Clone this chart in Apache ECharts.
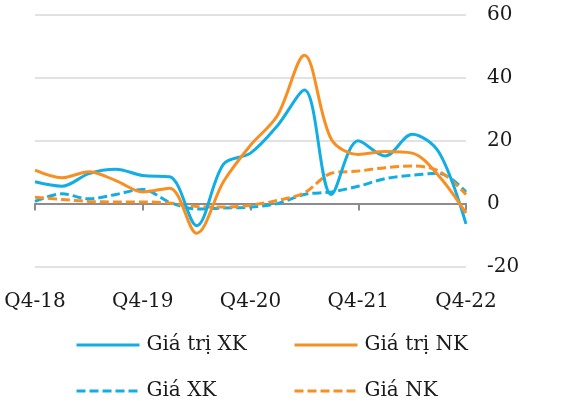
<!DOCTYPE html>
<html><head><meta charset="utf-8">
<script src="https://cdn.jsdelivr.net/npm/echarts@6/dist/echarts.min.js"></script>
<style>html,body{margin:0;padding:0;background:#fff}#c{width:565px;height:401px}</style>
</head><body><div id="c"></div>
<script>
const categories = ['Q4-18','Q1-19','Q2-19','Q3-19','Q4-19','Q1-20','Q2-20','Q3-20','Q4-20','Q1-21','Q2-21','Q3-21','Q4-21','Q1-22','Q2-22','Q3-22','Q4-22'];
const giaTriXK = [6.9, 5.5, 9.5, 10.9, 8.9, 8.5, -7.0, 12.5, 16.0, 24.7, 36.0, 2.9, 19.9, 15.1, 22.0, 16.2, -6.4];
const giaTriNK = [10.6, 8.2, 10.1, 7.3, 3.7, 4.9, -9.4, 7.0, 18.5, 27.9, 47.0, 20.4, 15.6, 16.5, 16.0, 8.7, -3.0];
const giaXK = [0.7, 3.1, 1.5, 2.9, 4.5, 0.4, -1.7, -1.4, -1.1, 0.0, 2.9, 3.7, 5.5, 7.9, 9.0, 9.6, 3.7];
const giaNK = [2.0, 1.3, 0.7, 0.5, 0.5, 0.2, -0.9, -1.1, -0.5, 1.0, 3.4, 9.6, 10.3, 11.4, 11.9, 10.3, 2.9];
const yTicks = {min: -20, max: 60, interval: 20};

const BLUE = '#12ADE4', ORANGE = '#F78F22';
const FONT = 'DejaVu Serif';
function mk(name, data, color, dashed) {
  return {name, type: 'line', data, smooth: 0.33, symbol: 'none',
    lineStyle: {color, width: 3, type: dashed ? [9, 4] : 'solid', cap: 'butt'},
    itemStyle: {color}};
}
const legendBase = {top: 335, orient: 'vertical', padding: 0, itemWidth: 63, itemHeight: 20, itemGap: 26,
  itemStyle: {opacity: 0}, lineStyle: {width: 3},
  textStyle: {fontFamily: FONT, fontSize: 20, color: '#1a1a1a', padding: [0,0,0,2]}};
const chart = echarts.init(document.getElementById('c'), null, {renderer: 'canvas'});
chart.setOption({
  animation: false,
  grid: {left: 35, right: 99, top: 14.3, bottom: 134.3, containLabel: false},
  xAxis: {type: 'category', data: categories, boundaryGap: false,
    axisLine: {onZero: true, lineStyle: {color: '#8c8c8c', width: 2}},
    axisTick: {show: true, interval: 3, length: 7, lineStyle: {color: '#8c8c8c', width: 2}},
    axisLabel: {interval: 3, margin: 25, color: '#1a1a1a', fontFamily: FONT, fontSize: 20},
    splitLine: {show: false}},
  yAxis: {type: 'value', position: 'right', min: yTicks.min, max: yTicks.max, interval: yTicks.interval,
    axisLine: {show: false}, axisTick: {show: false},
    axisLabel: {margin: 21, color: '#1a1a1a', fontFamily: FONT, fontSize: 20, align: 'left'},
    splitLine: {lineStyle: {color: '#d9d9d9', width: 1.5}}},
  legend: [
    Object.assign({left: 75, data: ['Giá trị XK', 'Giá XK']}, legendBase),
    Object.assign({left: 293, data: ['Giá trị NK', 'Giá NK']}, legendBase)
  ],
  series: [
    mk('Giá XK', giaXK, BLUE, true),
    mk('Giá NK', giaNK, ORANGE, true),
    mk('Giá trị XK', giaTriXK, BLUE, false),
    mk('Giá trị NK', giaTriNK, ORANGE, false)
  ]
});
</script></body></html>
